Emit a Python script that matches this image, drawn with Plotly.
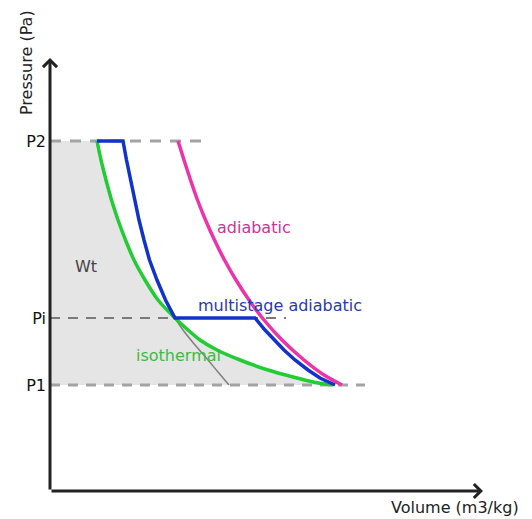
import plotly.graph_objects as go

# Pressure levels (arbitrary units)
P_LEVELS = [10.6, 17.3, 35.0]
P_LABELS = ["P1", "Pi", "P2"]
P1, Pi, P2 = P_LEVELS

# Dashed level line extents (volume where each ends)
DASH_END = [31.5, 23.6, 15.1]

# Isothermal curve (green)
iso_v = [4.7, 5.1, 5.6, 6.15, 6.8, 7.55, 8.4, 9.5, 10.8, 12.5, 13.8, 15.0, 16.7, 19.0, 21.8, 24.3, 26.3, 28.3]
iso_p = [35.0, 33.1, 31.1, 29.1, 27.1, 25.1, 23.1, 21.1, 19.1, 17.3, 16.1, 15.1, 14.1, 13.1, 12.1, 11.4, 10.9, 10.6]

# Single-stage adiabatic curve (pink)
adi_v = [12.8, 13.4, 14.05, 14.75, 15.55, 16.45, 17.45, 18.6, 19.9, 21.4, 23.2, 25.4, 27.4, 29.2]
adi_p = [35.0, 33.1, 31.1, 29.1, 27.1, 25.1, 23.1, 21.1, 19.1, 17.1, 15.1, 13.1, 11.6, 10.6]

# Multistage adiabatic path (blue)
multi_v = [4.7, 7.3, 7.65, 8.05, 8.45, 8.9, 9.4, 9.95, 10.7, 11.55, 12.5,
           20.5, 21.5, 22.45, 23.4, 24.5, 25.8, 27.0, 28.5]
multi_p = [35.0, 35.0, 33.1, 31.1, 29.1, 27.1, 25.1, 23.1, 21.1, 19.1, 17.3,
           17.3, 16.1, 15.1, 14.1, 13.1, 12.1, 11.3, 10.6]

# Continuation of first-stage adiabat below Pi (grey)
cont_v = [12.5, 13.3, 14.5, 15.8, 16.8, 17.9]
cont_p = [17.3, 16.1, 14.6, 13.1, 11.9, 10.6]

fig = go.Figure()

# Work area fill (left of isotherm, between P1 and P2)
fig.add_trace(go.Scatter(
    x=[0] + iso_v + [0], y=[P2] + iso_p + [P1],
    fill="toself", fillcolor="#e5e5e5", mode="none", hoverinfo="skip"))

# Dashed pressure level lines
dash_styles = [("#a3a3a3", 3, "10px,8px"), ("#7a7a7a", 2, "10px,8px"), ("#a3a3a3", 3, "11px,9px")]
for p, xe, (c, w, d) in zip(P_LEVELS, DASH_END, dash_styles):
    fig.add_trace(go.Scatter(x=[0, xe], y=[p, p], mode="lines",
                             line=dict(color=c, width=w, dash=d), hoverinfo="skip"))

fig.add_trace(go.Scatter(x=cont_v, y=cont_p, mode="lines",
                         line=dict(color="#808080", width=1.5, shape="spline"), hoverinfo="skip"))
fig.add_trace(go.Scatter(x=iso_v, y=iso_p, mode="lines",
                         line=dict(color="#22cc33", width=3.5, shape="spline", smoothing=0.6)))
fig.add_trace(go.Scatter(x=adi_v, y=adi_p, mode="lines",
                         line=dict(color="#ee33aa", width=3.5, shape="spline", smoothing=0.6)))
fig.add_trace(go.Scatter(x=multi_v, y=multi_p, mode="lines",
                         line=dict(color="#1133cc", width=3.5)))

font = "DejaVu Sans"
annotations = [
    # axes with arrow heads
    dict(x=0, y=43.3, ax=0, ay=0, xref="x", yref="y", axref="x", ayref="y",
         showarrow=True, arrowhead=4, arrowsize=0.9, arrowwidth=3, arrowcolor="#222222", text=""),
    dict(x=43.3, y=0, ax=0, ay=0, xref="x", yref="y", axref="x", ayref="y",
         showarrow=True, arrowhead=4, arrowsize=0.9, arrowwidth=3, arrowcolor="#222222", text=""),
    dict(x=3.6, y=(491 - 266) / 10, text="Wt", showarrow=False,
         font=dict(family=font, size=16, color="#444444")),
    dict(x=20.4, y=(491 - 227) / 10, text="adiabatic", showarrow=False,
         font=dict(family=font, size=16, color="#cc3399")),
    dict(x=23.0, y=(491 - 305) / 10, text="multistage adiabatic", showarrow=False,
         font=dict(family=font, size=16, color="#2a3aa8")),
    dict(x=12.8, y=(491 - 355) / 10, text="isothermal", showarrow=False,
         font=dict(family=font, size=16, color="#3dbb3d")),
    dict(x=26, y=63, xref="paper", yref="paper", text="Pressure (Pa)", showarrow=False,
         textangle=-90, font=dict(family=font, size=16, color="#222222")),
    dict(x=455, y=508, xref="paper", yref="paper", text="Volume (m3/kg)", showarrow=False,
         font=dict(family=font, size=16, color="#222222")),
]

W, H = 532, 519
L, R, T, B = 50, 32, 40, 28
# convert pixel-position annotations (paper refs) to paper fractions
for a in annotations:
    if a.get("xref") == "paper":
        a["x"] = (a["x"] - L) / (W - L - R)
        a["y"] = 1 - (a["y"] - T) / (H - T - B)
        a["xanchor"] = "center"
        a["yanchor"] = "middle"

fig.update_layout(
    width=W, height=H, margin=dict(l=L, r=R, t=T, b=B),
    paper_bgcolor="white", plot_bgcolor="white", showlegend=False,
    xaxis=dict(range=[0, 45], showgrid=False, zeroline=False, showticklabels=False,
               showline=False, fixedrange=True),
    yaxis=dict(range=[0, 45.1], showgrid=False, zeroline=False, showline=False,
               tickvals=P_LEVELS, ticktext=P_LABELS, ticks="", ticklabelstandoff=3,
               tickfont=dict(family=font, size=16, color="#111111"), fixedrange=True),
    annotations=annotations,
)

fig.write_html("out.html", config={"displayModeBar": False},
               post_script="document.body.style.margin='0';document.body.style.overflow='hidden';")
